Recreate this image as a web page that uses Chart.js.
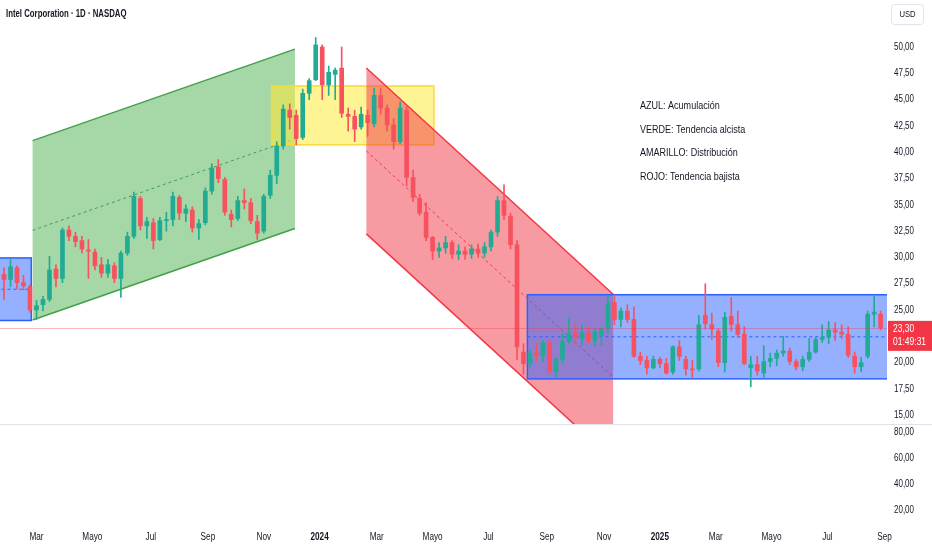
<!DOCTYPE html>
<html>
<head>
<meta charset="utf-8">
<script src="https://cdn.jsdelivr.net/npm/chart.js@4.4.0/dist/chart.umd.min.js"></script>
<style>
  html, body { margin: 0; padding: 0; background: #fff; }
  #grafico { display: block; }
</style>
</head>
<body>
<canvas id="grafico" width="932" height="550"></canvas>
<script>
// Velas semanales de INTC (lunes de cada semana a partir de primeraSemana)
const primeraSemana = '2023-01-23';
const apertura = [28.4,27.9,29.0,27.6,27.2,25.0,25.5,26.0,28.9,28.0,32.6,32.0,31.6,30.7,30.5,29.3,28.5,29.2,28.0,30.4,
  32.0,35.6,33.0,33.3,31.7,33.5,33.6,35.7,34.2,34.5,32.8,33.3,36.3,38.6,37.4,34.1,33.7,35.4,35.2,33.4,
  32.5,35.9,37.8,40.6,44.0,43.5,41.4,45.6,46.9,50.0,46.4,47.4,48.0,43.6,43.4,42.4,43.5,42.7,45.4,44.2,
  42.6,41.0,44.0,37.6,35.6,34.3,31.9,30.6,30.9,31.4,30.3,30.6,30.3,30.8,30.4,31.0,32.4,35.4,33.9,31.2,
  21.0,19.9,20.9,20.6,21.9,19.1,20.3,22.0,22.9,22.3,22.8,22.1,22.6,23.2,25.7,24.1,24.9,24.1,20.6,20.2,
  19.5,20.3,19.9,19.1,21.5,20.3,19.4,19.4,24.5,23.6,23.0,20.0,24.4,23.6,22.7,19.5,19.8,19.0,20.1,20.4,
  20.9,21.1,20.1,19.6,20.3,21.0,22.2,22.4,23.1,22.9,22.7,20.6,19.6,20.6,24.6,24.6];
const maximo = [29.0,29.8,29.2,28.3,27.4,25.9,26.3,30.1,29.3,32.8,33.0,32.4,32.0,31.7,30.8,30.0,29.8,29.5,30.6,32.4,
  36.2,35.8,33.8,33.7,33.8,34.3,36.2,35.9,35.0,34.8,33.6,36.6,38.9,39.3,37.6,34.5,35.8,36.5,35.6,34.0,
  36.0,38.3,41.0,44.5,44.6,44.0,46.0,47.0,50.9,50.2,48.2,48.0,50.0,44.2,44.0,44.3,44.0,46.1,46.1,44.5,
  43.2,44.8,44.3,38.3,36.0,35.2,32.0,31.4,32.0,31.6,31.2,31.0,31.2,31.3,31.4,32.6,35.8,36.9,34.2,31.6,
  21.8,21.2,21.8,22.1,22.1,20.5,22.8,24.3,23.8,23.6,23.4,23.2,23.3,26.4,26.4,25.2,25.5,25.3,21.0,20.6,
  20.6,20.5,20.4,21.6,22.1,20.6,20.2,24.5,27.5,24.7,23.2,24.8,26.2,24.9,23.4,20.6,20.6,21.6,20.9,21.2,
  22.5,21.4,20.3,20.6,22.3,22.4,23.6,23.9,23.8,23.6,23.4,21.0,20.5,24.9,26.4,24.9];
const minimo = [26.0,27.2,27.0,26.9,24.8,24.1,24.9,25.8,27.2,27.6,31.6,31.0,30.4,28.0,28.8,28.1,28.1,27.6,26.2,30.2,
  31.8,32.6,31.8,30.8,31.6,32.5,33.0,33.6,33.4,32.4,31.7,33.1,36.0,37.1,34.0,32.9,33.5,34.6,33.2,31.7,
  32.3,35.6,37.0,40.3,42.2,40.7,41.2,45.0,46.8,45.0,45.4,45.0,43.3,42.0,41.0,42.2,41.5,42.4,43.6,42.0,
  40.3,40.8,36.8,35.3,34.0,31.6,29.8,30.0,30.4,29.9,29.8,29.8,29.9,30.0,30.0,30.6,32.0,33.6,30.8,20.3,
  18.9,19.5,20.2,20.1,19.0,18.6,20.0,21.8,21.7,21.6,21.9,21.6,21.6,22.8,23.6,23.4,23.8,20.5,19.8,18.9,
  19.4,19.5,18.9,18.9,20.2,18.8,18.6,19.2,23.2,22.2,19.6,19.1,23.0,22.4,19.8,17.7,18.8,18.6,19.6,19.7,
  20.6,19.8,19.3,19.2,20.1,20.9,21.9,21.8,22.1,22.3,20.5,19.0,19.1,20.4,23.4,23.1];
const cierre = [27.9,29.1,27.6,27.3,25.0,25.4,26.0,28.8,28.0,32.6,32.0,31.5,30.8,30.6,29.2,28.5,29.3,28.0,30.4,32.0,
  35.8,33.0,33.4,31.6,33.5,33.6,35.8,34.2,34.6,32.8,33.2,36.3,38.5,37.5,34.3,33.6,35.4,35.2,33.5,32.3,
  35.8,37.8,40.6,44.1,43.3,41.3,45.6,46.8,50.2,46.4,47.6,47.8,43.7,43.4,42.2,43.6,42.8,45.4,44.2,42.6,
  41.0,44.2,37.6,35.7,34.2,31.9,30.6,30.9,31.4,30.3,30.6,30.3,30.8,30.4,31.0,32.4,35.4,34.0,31.2,21.5,
  19.9,20.9,20.7,21.9,19.1,20.3,22.0,22.8,22.4,22.8,22.1,22.9,23.2,25.6,24.1,24.9,24.1,20.6,20.2,19.5,
  20.3,19.9,19.0,21.5,20.6,19.4,19.3,23.6,23.7,23.2,20.0,24.3,23.6,22.7,19.9,19.8,19.2,20.1,20.4,20.9,
  21.1,20.1,19.6,20.3,21.0,22.2,22.4,23.1,22.9,22.7,20.7,19.6,20.0,24.6,24.8,23.3];
const precioActual = 23.30;
const cuentaAtras = '01:49:31';

// Eje de tiempo y ejes de precio
const fechasMes = ['2023-03-01','2023-05-01','2023-07-01','2023-09-01','2023-11-01','2024-01-01','2024-03-01','2024-05-01',
  '2024-07-01','2024-09-01','2024-11-01','2025-01-01','2025-03-01','2025-05-01','2025-07-01','2025-09-01'];
const etiquetasMes = ['Mar','Mayo','Jul','Sep','Nov','2024','Mar','Mayo','Jul','Sep','Nov','2025','Mar','Mayo','Jul','Sep'];
const ticksPrecio = [15,17.5,20,22.5,25,27.5,30,32.5,35,37.5,40,42.5,45,47.5,50];
const ticksInferior = [20,40,60,80];

// Dibujos (fecha, precio)
const rectAzulIzq = ['2022-12-01','2023-02-23',24.0,29.95];
const rectAmarillo = ['2023-11-09','2024-05-02',40.7,46.3];
const rectAzulDer = ['2024-08-12','2025-12-31',18.45,26.45];
const canalVerde = ['2023-02-24','2023-12-05',41.1,49.8,17.05];
const canalRojo = ['2024-02-20','2024-11-12',48.0,26.5,15.76];
const leyenda = ['AZUL: Acumulación','VERDE: Tendencia alcista','AMARILLO: Distribución','ROJO: Tendencia bajista'];

const FUENTE = "'Liberation Sans', sans-serif";
const TEXTO = '#131722';
const VELA_SUBE = '#22ab94';
const VELA_BAJA = '#f7525f';

// Índice de día hábil (lun-vie) contado desde el 1 de marzo de 2023
function indiceDia(fecha) {
  const ref = Date.UTC(2023, 0, 2);
  const dias = Math.round((Date.parse(fecha + 'T00:00:00Z') - ref) / 86400000);
  const semanas = Math.floor(dias / 7);
  const resto = dias - semanas * 7;
  return semanas * 5 + Math.min(resto, 5) - 42;
}
function sumarDias(fecha, n) {
  const t = new Date(Date.parse(fecha + 'T00:00:00Z') + n * 86400000);
  return t.toISOString().slice(0, 10);
}
const coma = v => v.toFixed(2).replace('.', ',');

const xVelas = apertura.map((_, i) => indiceDia(sumarDias(primeraSemana, 7 * i)) + 2);
const cuerpos = xVelas.map((x, i) => ({ x: x, y: [apertura[i], cierre[i]] }));
const mechas = xVelas.map((x, i) => ({ x: x, y: [minimo[i], maximo[i]] }));
const colores = apertura.map((o, i) => cierre[i] >= o ? VELA_SUBE : VELA_BAJA);

// texto algo estrechado, como la fuente del original
function texto(ctx, s, x, y, fuente, escala, alinear) {
  ctx.save();
  ctx.font = fuente;
  ctx.textAlign = alinear || 'left';
  ctx.textBaseline = 'middle';
  ctx.translate(x, y);
  ctx.scale(escala, 1);
  ctx.fillText(s, 0, 0);
  ctx.restore();
}

function rect(ctx, px, py, r, relleno, borde, media) {
  const x1 = px(r[0]), x2 = px(r[1]), y1 = py(r[3]), y2 = py(r[2]);
  ctx.fillStyle = relleno;
  ctx.fillRect(x1, y1, x2 - x1, y2 - y1);
  ctx.strokeStyle = borde;
  ctx.lineWidth = 1.5;
  ctx.strokeRect(x1, y1, x2 - x1, y2 - y1);
  if (media) {
    const ym = py((r[2] + r[3]) / 2);
    ctx.setLineDash([3, 3]);
    ctx.lineWidth = 1;
    ctx.beginPath(); ctx.moveTo(x1, ym); ctx.lineTo(x2, ym); ctx.stroke();
    ctx.setLineDash([]);
  }
}

function canal(ctx, px, py, c, relleno, borde) {
  const x1 = px(c[0]), x2 = px(c[1]);
  const a1 = py(c[2]), a2 = py(c[3]);
  const b1 = py(c[2] - c[4]), b2 = py(c[3] - c[4]);
  const m1 = py(c[2] - c[4] / 2), m2 = py(c[3] - c[4] / 2);
  ctx.fillStyle = relleno;
  ctx.beginPath();
  ctx.moveTo(x1, a1); ctx.lineTo(x2, a2); ctx.lineTo(x2, b2); ctx.lineTo(x1, b1);
  ctx.closePath(); ctx.fill();
  ctx.strokeStyle = borde;
  ctx.lineWidth = 1.5;
  ctx.beginPath(); ctx.moveTo(x1, a1); ctx.lineTo(x2, a2); ctx.stroke();
  ctx.beginPath(); ctx.moveTo(x1, b1); ctx.lineTo(x2, b2); ctx.stroke();
  ctx.setLineDash([3, 3]);
  ctx.lineWidth = 1;
  ctx.beginPath(); ctx.moveTo(x1, m1); ctx.lineTo(x2, m2); ctx.stroke();
  ctx.setLineDash([]);
}

const dibujos = {
  id: 'dibujos',
  // rectángulos y canales detrás de las velas
  beforeDatasetsDraw(chart) {
    const { ctx, chartArea, scales } = chart;
    const px = f => scales.x.getPixelForValue(indiceDia(f));
    const py = v => scales.y.getPixelForValue(v);
    ctx.save();
    ctx.beginPath();
    ctx.rect(chartArea.left, scales.y.top, chartArea.right - chartArea.left, scales.y.bottom - scales.y.top);
    ctx.clip();
    canal(ctx, px, py, canalVerde, 'rgba(76,175,80,0.5)', '#43a047');
    rect(ctx, px, py, rectAmarillo, 'rgba(255,235,59,0.55)', '#fdd835', false);
    canal(ctx, px, py, canalRojo, 'rgba(242,54,69,0.5)', '#f23645');
    rect(ctx, px, py, rectAzulDer, 'rgba(41,98,255,0.5)', '#2962ff', true);
    rect(ctx, px, py, rectAzulIzq, 'rgba(41,98,255,0.5)', '#2962ff', true);
    ctx.restore();
  },
  afterDatasetsDraw(chart) {
    const { ctx, chartArea, scales } = chart;
    // línea del precio actual
    const yp = Math.round(scales.y.getPixelForValue(precioActual)) + 0.5;
    ctx.save();
    ctx.strokeStyle = 'rgba(242,54,69,0.35)';
    ctx.lineWidth = 1;
    ctx.beginPath(); ctx.moveTo(chartArea.left, yp); ctx.lineTo(chartArea.right, yp); ctx.stroke();
    ctx.restore();
  },
  afterDraw(chart) {
    const { ctx, chartArea, scales } = chart;
    const ancho = chart.width;
    ctx.save();
    // separador de paneles
    ctx.strokeStyle = '#e0e3eb';
    ctx.lineWidth = 1;
    const ys = Math.round(scales.y.bottom) + 0.5;
    ctx.beginPath(); ctx.moveTo(0, ys); ctx.lineTo(ancho, ys); ctx.stroke();
    // etiquetas de los ejes
    ctx.fillStyle = TEXTO;
    [scales.y, scales.y2].forEach(s => s.ticks.forEach(t =>
      texto(ctx, coma(t.value), s.left + 7, s.getPixelForValue(t.value), '10px ' + FUENTE, 0.8)));
    scales.x.ticks.forEach((t, i) => {
      const anio = /^\d{4}$/.test(etiquetasMes[i]);
      texto(ctx, etiquetasMes[i], scales.x.getPixelForValue(t.value), 537,
        (anio ? 'bold ' : '') + '10px ' + FUENTE, 0.82, 'center');
    });
    // etiqueta de precio
    const yp = scales.y.getPixelForValue(precioActual);
    ctx.fillStyle = '#f23645';
    ctx.fillRect(chartArea.right + 1, yp - 7, ancho - chartArea.right - 1, 30);
    ctx.fillStyle = '#fff';
    texto(ctx, coma(precioActual), chartArea.right + 6, yp + 1, '10px ' + FUENTE, 0.85);
    texto(ctx, cuentaAtras, chartArea.right + 6, yp + 14, '10px ' + FUENTE, 0.85);
    // título
    ctx.fillStyle = TEXTO;
    texto(ctx, 'Intel Corporation · 1D · NASDAQ', 6, 14, 'bold 10px ' + FUENTE, 0.78);
    // leyenda de colores
    leyenda.forEach((t, i) => texto(ctx, t, 640, 106 + i * 23.6, '11px ' + FUENTE, 0.82));
    // botón USD
    ctx.strokeStyle = '#e0e3eb';
    ctx.beginPath();
    ctx.roundRect(891.5, 4.5, 32, 20, 3);
    ctx.stroke();
    ctx.fillStyle = TEXTO;
    texto(ctx, 'USD', 907.5, 15, '9px ' + FUENTE, 0.85, 'center');
    ctx.restore();
  }
};

const sinRelleno = s => { s.paddingTop = 0; s.paddingBottom = 0; s.paddingLeft = 0; s.paddingRight = 0; };

const grafico = new Chart(document.getElementById('grafico'), {
  type: 'bar',
  data: {
    datasets: [
      {
        data: mechas,
        backgroundColor: colores,
        barThickness: 1,
        grouped: false,
        yAxisID: 'y'
      },
      {
        data: cuerpos,
        backgroundColor: colores,
        barThickness: 4,
        minBarLength: 1,
        grouped: false,
        yAxisID: 'y'
      }
    ]
  },
  options: {
    responsive: false,
    animation: false,
    events: [],
    layout: { padding: 0 },
    plugins: { legend: { display: false }, tooltip: { enabled: false } },
    scales: {
      x: {
        type: 'linear',
        offset: false,
        min: -28.1,
        max: 654.9,
        grid: { display: false },
        border: { display: false },
        afterBuildTicks: s => { s.ticks = fechasMes.map(f => ({ value: indiceDia(f) })); },
        afterFit: s => { sinRelleno(s); s.height = 28; },
        ticks: { display: false, autoSkip: false, maxRotation: 0 }
      },
      y: {
        type: 'linear',
        position: 'right',
        stack: 'panel',
        stackWeight: 424,
        min: 14.16,
        max: 54.47,
        grid: { display: false },
        border: { display: false },
        afterBuildTicks: s => { s.ticks = ticksPrecio.map(v => ({ value: v })); },
        afterFit: s => { sinRelleno(s); s.width = 45; },
        ticks: { display: false }
      },
      y2: {
        type: 'linear',
        position: 'right',
        stack: 'panel',
        stackWeight: 98,
        min: 10.77,
        max: 86.15,
        grid: { display: false },
        border: { display: false },
        afterBuildTicks: s => { s.ticks = ticksInferior.map(v => ({ value: v })); },
        afterFit: s => { sinRelleno(s); s.width = 45; },
        ticks: { display: false }
      }
    }
  },
  plugins: [dibujos]
});
</script>
</body>
</html>
